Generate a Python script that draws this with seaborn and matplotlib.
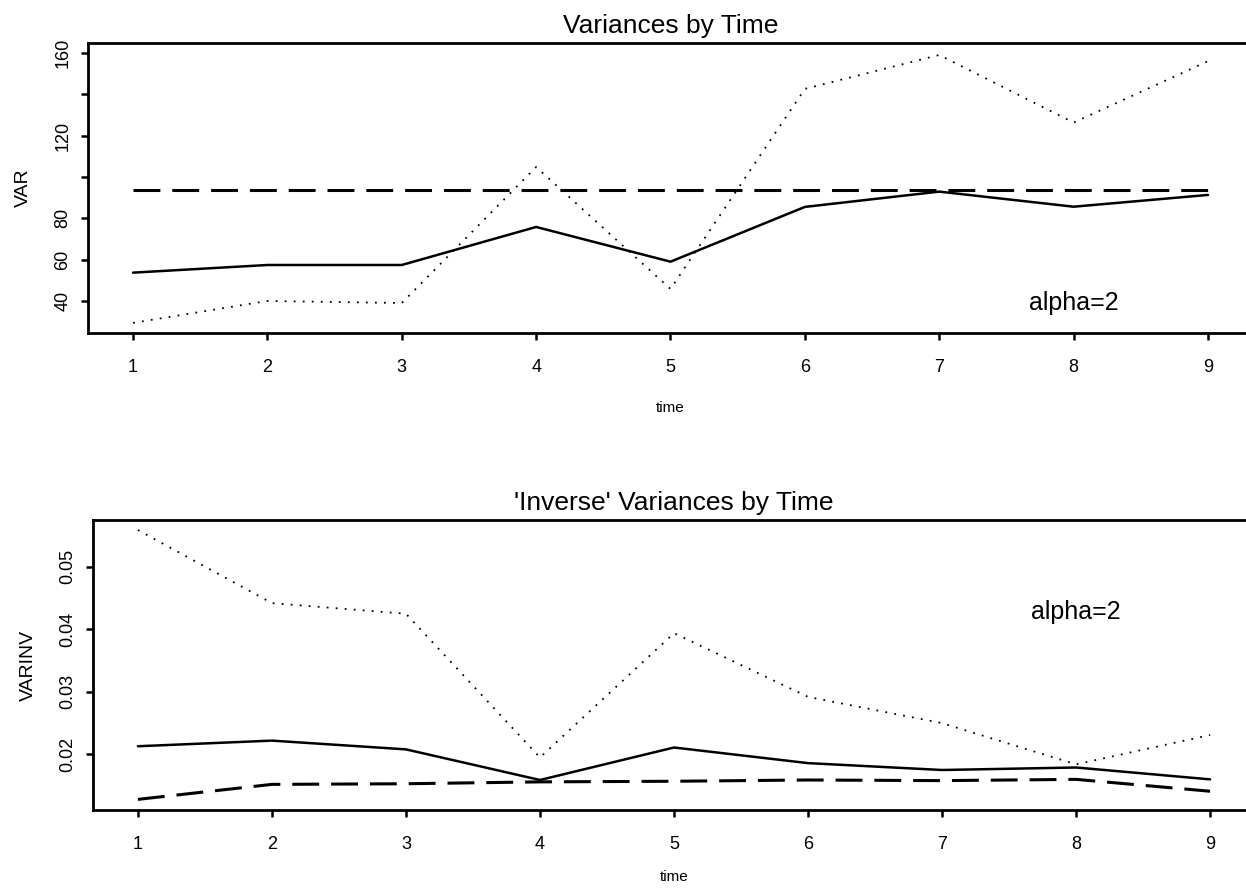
import numpy as np
import pandas as pd
import matplotlib
matplotlib.use("Agg")
import matplotlib.pyplot as plt
import seaborn as sns

# ---- data ----
time = [1, 2, 3, 4, 5, 6, 7, 8, 9]

var_solid = [53.7, 57.4, 57.4, 75.8, 59.0, 85.5, 92.9, 85.6, 91.3]
var_dashed = [93.5, 93.5, 93.5, 93.5, 93.5, 93.5, 93.5, 93.5, 93.5]
var_dotted = [29.4, 40.0, 39.0, 104.8, 45.8, 142.6, 159.0, 126.3, 156.0]

inv_solid = [0.0213, 0.0222, 0.0208, 0.0159, 0.0211, 0.0186, 0.0175, 0.0179, 0.0160]
inv_dashed = [0.0128, 0.0152, 0.0153, 0.0156, 0.0157, 0.0159, 0.0158, 0.0160, 0.0141]
inv_dotted = [0.0559, 0.0442, 0.0425, 0.0195, 0.0394, 0.0292, 0.0250, 0.0184, 0.0231]

var_yticks = [40, 60, 80, 100, 120, 140, 160]
var_yticklabels = ["40", "60", "80", "", "120", "", "160"]
inv_yticks = [0.02, 0.03, 0.04, 0.05]
inv_yticklabels = ["0.02", "0.03", "0.04", "0.05"]

titles = ["Variances by Time", "'Inverse' Variances by Time"]
ylabels = ["VAR", "VARINV"]
xlabel = "time"
annotation = "alpha=2"

sns.set_theme(style="ticks")
plt.rcParams["font.family"] = ["Liberation Sans", "DejaVu Sans"]

fig = plt.figure(figsize=(12.46, 8.88), dpi=100)
W, H = 1246, 888
ax1 = fig.add_axes([88 / W, 1 - 333 / H, (1253 - 88) / W, 290 / H])
ax2 = fig.add_axes([93 / W, 1 - 810 / H, (1255 - 93) / W, 290 / H])

styles = {
    "solid": dict(linestyle="-", linewidth=1.8),
    "dashed": dict(linestyle=(0, (8.8, 3.9)), linewidth=2.2),
    "dotted": dict(linestyle=(0, (1, 4)), linewidth=1.3),
}

def draw(ax, s, d, o, title, ylabel, yticks, yticklabels, ylim, ann_xy, xlabelpad):
    sns.lineplot(x=time, y=s, ax=ax, color="black", **styles["solid"])
    sns.lineplot(x=time, y=d, ax=ax, color="black", **styles["dashed"])
    sns.lineplot(x=time, y=o, ax=ax, color="black", **styles["dotted"])
    ax.set_xlim(0.665, 9.335)
    ax.set_ylim(*ylim)
    ax.set_xticks(time)
    ax.set_xticklabels([str(t) for t in time])
    ax.set_yticks(yticks)
    ax.set_yticklabels(yticklabels, rotation=90, va="center")
    ax.tick_params(axis="both", direction="out", length=5, width=1.8,
                   color="black", labelsize=13, labelcolor="black")
    ax.tick_params(axis="x", pad=14)
    ax.tick_params(axis="y", pad=7)
    for sp in ax.spines.values():
        sp.set_visible(True)
        sp.set_linewidth(2.0)
        sp.set_color("black")
    ax.set_title(title, fontsize=19, pad=7, color="black")
    ax.set_xlabel(xlabel, fontsize=11, labelpad=xlabelpad, color="black")
    ax.set_ylabel(ylabel, fontsize=14, labelpad=16, color="black")
    ax.text(ann_xy[0], ann_xy[1], annotation, fontsize=18, ha="center",
            va="center", color="black")
    ax.grid(False)

draw(ax1, var_solid, var_dashed, var_dotted, titles[0], ylabels[0],
     var_yticks, var_yticklabels, (24.5, 164.8), (8.0, 39.0), 18)
draw(ax2, inv_solid, inv_dashed, inv_dotted, titles[1], ylabels[1],
     inv_yticks, inv_yticklabels, (0.0111, 0.0575), (8.0, 0.0427), 12)

fig.savefig("out.png", dpi=100, facecolor="white")
